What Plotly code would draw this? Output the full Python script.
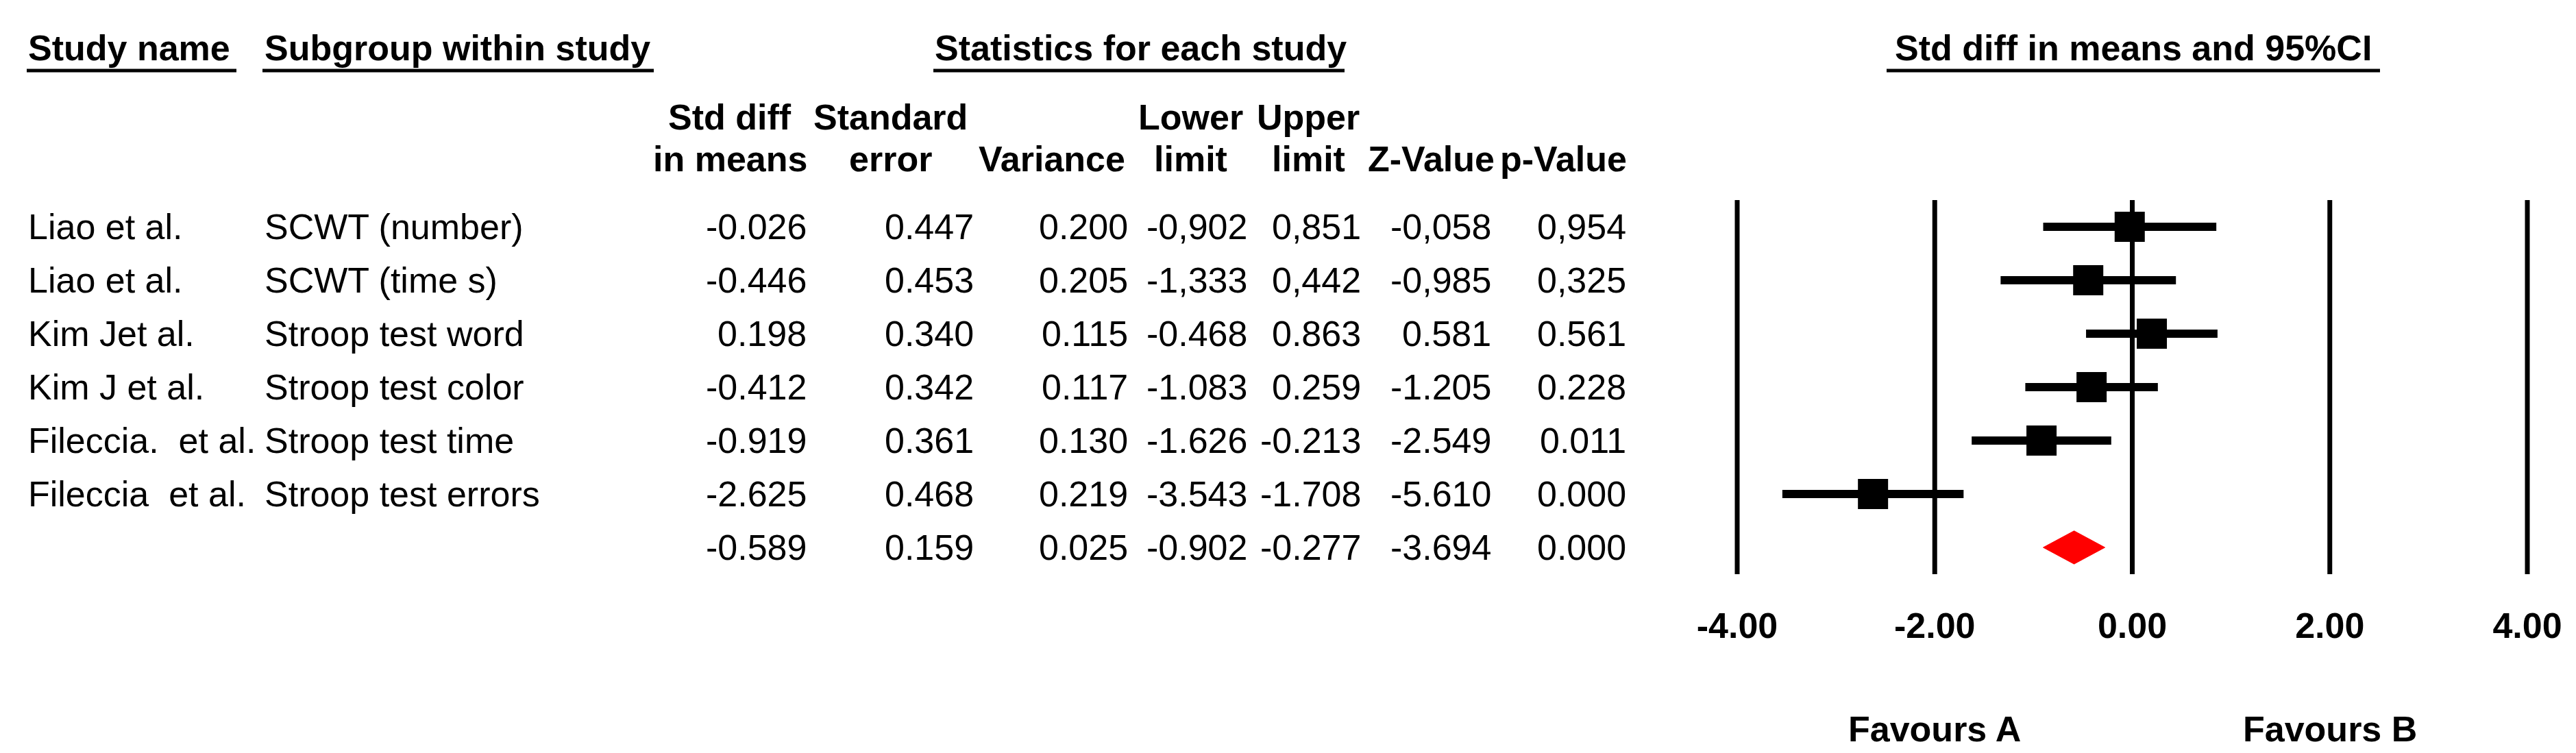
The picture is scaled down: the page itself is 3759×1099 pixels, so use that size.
import plotly.graph_objects as go

W, H = 3759, 1099
FONT = "Arial, Liberation Sans, sans-serif"
FS = 52

# ---------------- data ----------------
study_names = ["Liao et al.", "Liao et al.", "Kim Jet al.", "Kim J et al.",
               "Fileccia.\u00a0 et al.", "Fileccia\u00a0 et al.", ""]
subgroups = ["SCWT (number)", "SCWT (time s)", "Stroop test word", "Stroop test color",
             "Stroop test time", "Stroop test errors", ""]
std_diff = [-0.026, -0.446, 0.198, -0.412, -0.919, -2.625, -0.589]
std_err = [0.447, 0.453, 0.340, 0.342, 0.361, 0.468, 0.159]
variance = [0.200, 0.205, 0.115, 0.117, 0.130, 0.219, 0.025]
lower = [-0.902, -1.333, -0.468, -1.083, -1.626, -3.543, -0.902]
upper = [0.851, 0.442, 0.863, 0.259, -0.213, -1.708, -0.277]
z_value = [-0.058, -0.985, 0.581, -1.205, -2.549, -5.610, -3.694]
p_value = [0.954, 0.325, 0.561, 0.228, 0.011, 0.000, 0.000]
comma_rows = [True, True, False, False, False, False, False]  # rows printed with decimal comma
tick_vals = [-4, -2, 0, 2, 4]
favours = ["Favours A", "Favours B"]
favours_x = [-2, 2]

n_study = 6
rows = list(range(len(std_diff)))

# ---------------- layout constants (pixels) ----------------
X_ZERO, X_PER_UNIT = 3103.5, 144.125
X_RANGE = [-4.5, 4.5]
ROW0_PX, ROW_STEP = 323.0, 78.0
AXIS_BOTTOM_PX = 830.0
y_top = -ROW0_PX / ROW_STEP
y_bottom = (AXIS_BOTTOM_PX - ROW0_PX) / ROW_STEP


def px_x(v):
    return v / W


def px_y(v):
    return 1 - v / H


def fmt(v, comma=False):
    s = f"{v:.3f}"
    return s.replace(".", ",") if comma else s


fig = go.Figure()

# vertical reference lines
for tv in tick_vals:
    fig.add_trace(go.Scatter(x=[tv, tv], y=[-0.5, y_bottom], mode="lines",
                             line=dict(color="black", width=7), hoverinfo="skip",
                             showlegend=False))

# study estimates with CI
fig.add_trace(go.Scatter(
    x=std_diff[:n_study], y=rows[:n_study], mode="markers",
    marker=dict(symbol="square", size=44, color="black"),
    error_x=dict(type="data", symmetric=False,
                 array=[u - e for u, e in zip(upper[:n_study], std_diff[:n_study])],
                 arrayminus=[e - l for e, l in zip(std_diff[:n_study], lower[:n_study])],
                 color="black", thickness=12, width=0),
    showlegend=False, hoverinfo="skip"))

# summary diamond
h = 0.31
r = rows[n_study]
fig.add_trace(go.Scatter(
    x=[lower[n_study], std_diff[n_study], upper[n_study], std_diff[n_study], lower[n_study]],
    y=[r, r - h, r, r + h, r], mode="lines", fill="toself",
    fillcolor="#ff0000", line=dict(color="#ff0000", width=1),
    showlegend=False, hoverinfo="skip"))

ann = []


def add_text(text, x, y, xanchor="center", bold=False, yref="paper", xref="paper"):
    ann.append(dict(text=text, x=x, y=y, xref=xref, yref=yref, xanchor=xanchor,
                    yanchor="middle", showarrow=False,
                    font=dict(family=FONT, size=FS, color="black",
                              weight="bold" if bold else "normal")))


# top headings
HEAD_Y = 62
add_text("Study name", px_x(31), px_y(HEAD_Y), xanchor="left", bold=True)
add_text("Subgroup within study", px_x(376), px_y(HEAD_Y), xanchor="left", bold=True)
add_text("Statistics for each study", px_x(1656), px_y(HEAD_Y), bold=True)
add_text("Std diff in means and 95%CI", px_x(3105), px_y(HEAD_Y), bold=True)

shapes = []
for x0, x1 in [(31, 337), (375, 946), (1354, 1954), (2745, 3465)]:
    shapes.append(dict(type="line", xref="paper", yref="paper",
                       x0=px_x(x0), x1=px_x(x1), y0=px_y(95), y1=px_y(95),
                       line=dict(color="black", width=5)))

# column headers
col_centers = [1057, 1291, 1527, 1729, 1901, 2080, 2273]
head1 = ["Std diff", "Standard", "", "Lower", "Upper", "", ""]
head2 = ["in means", "error", "Variance", "limit", "limit", "Z-Value", "p-Value"]
for c, t1, t2 in zip(col_centers, head1, head2):
    if t1:
        add_text(t1, px_x(c), px_y(163), bold=True)
    add_text(t2, px_x(c), px_y(224), bold=True)

# table body
col_right = [1171, 1415, 1640, 1814, 1980, 2170, 2367]
for i in rows:
    if study_names[i]:
        add_text(study_names[i], px_x(31), i, xanchor="left", yref="y")
    if subgroups[i]:
        add_text(subgroups[i], px_x(376), i, xanchor="left", yref="y")
    vals = [fmt(std_diff[i]), fmt(std_err[i]), fmt(variance[i]),
            fmt(lower[i], comma_rows[i]), fmt(upper[i], comma_rows[i]),
            fmt(z_value[i], comma_rows[i]), fmt(p_value[i], comma_rows[i])]
    for xr, v in zip(col_right, vals):
        add_text(v, px_x(xr), i, xanchor="right", yref="y")

# favours labels
for fx, ft in zip(favours_x, favours):
    add_text(ft, fx, px_y(1056), bold=True, xref="x")

x_left_px = X_ZERO + X_RANGE[0] * X_PER_UNIT
x_right_px = X_ZERO + X_RANGE[1] * X_PER_UNIT

fig.update_layout(
    width=W, height=H, margin=dict(l=0, r=0, t=0, b=0),
    paper_bgcolor="white", plot_bgcolor="white",
    showlegend=False,
    xaxis=dict(domain=[px_x(x_left_px), px_x(x_right_px)], range=X_RANGE,
               showgrid=False, zeroline=False, showline=False, ticks="",
               tickvals=tick_vals, ticktext=[f"{v:.2f}" for v in tick_vals],
               tickfont=dict(family=FONT, size=FS, color="black", weight="bold"),
               ticklabelstandoff=40, fixedrange=True),
    yaxis=dict(domain=[1 - AXIS_BOTTOM_PX / H, 1], range=[y_bottom, y_top],
               showgrid=False, zeroline=False, showline=False,
               showticklabels=False, ticks="", fixedrange=True),
    annotations=ann, shapes=shapes,
)

fig.write_html("out.html")
